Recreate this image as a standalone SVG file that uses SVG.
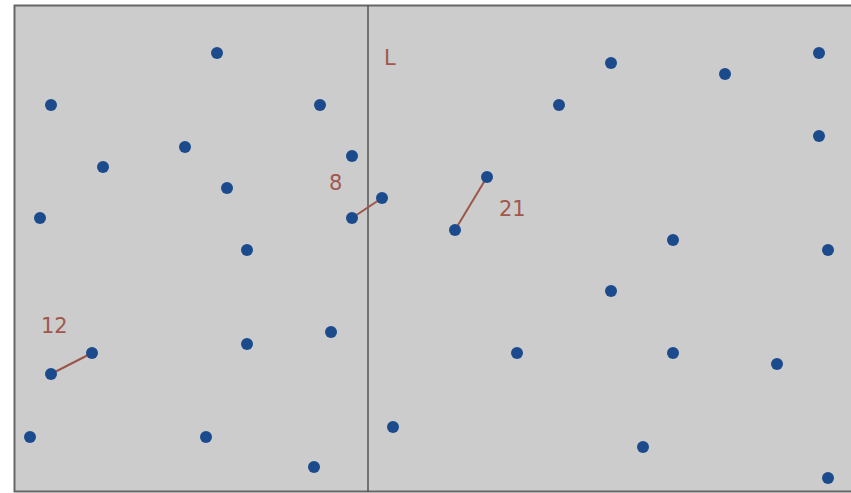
<svg xmlns="http://www.w3.org/2000/svg" width="851" height="493" viewBox="0 0 851 493">
<style>
.pt{fill:#1b4b8c}
.pair{stroke:#9c5548;stroke-width:2}
.lbl{fill:#a0584e;font-family:"DejaVu Sans",sans-serif;font-size:21px}
</style>
<rect width="851" height="493" fill="#ffffff"/>
<rect x="14.5" y="5.5" width="845" height="486" fill="#cccccc" stroke="#666666" stroke-width="2"/>
<g id="divider"><line x1="368" y1="5" x2="368" y2="492" stroke="#555555" stroke-width="1.5"/></g>
<g id="connectors">
<line class="pair" x1="352" y1="218" x2="382" y2="198"/>
<line class="pair" x1="51" y1="374" x2="92" y2="353"/>
<line class="pair" x1="455" y1="230" x2="487" y2="177"/>
</g>
<g id="labels">
<text class="lbl" x="384" y="65">L</text>
<text class="lbl" x="329" y="190">8</text>
<text class="lbl" x="41" y="333">12</text>
<text class="lbl" x="499" y="216">21</text>
</g>
<g id="points">
<circle class="pt" cx="217" cy="53" r="6"/>
<circle class="pt" cx="51" cy="105" r="6"/>
<circle class="pt" cx="320" cy="105" r="6"/>
<circle class="pt" cx="185" cy="147" r="6"/>
<circle class="pt" cx="103" cy="167" r="6"/>
<circle class="pt" cx="352" cy="156" r="6"/>
<circle class="pt" cx="227" cy="188" r="6"/>
<circle class="pt" cx="40" cy="218" r="6"/>
<circle class="pt" cx="352" cy="218" r="6"/>
<circle class="pt" cx="382" cy="198" r="6"/>
<circle class="pt" cx="247" cy="250" r="6"/>
<circle class="pt" cx="331" cy="332" r="6"/>
<circle class="pt" cx="247" cy="344" r="6"/>
<circle class="pt" cx="92" cy="353" r="6"/>
<circle class="pt" cx="51" cy="374" r="6"/>
<circle class="pt" cx="30" cy="437" r="6"/>
<circle class="pt" cx="206" cy="437" r="6"/>
<circle class="pt" cx="314" cy="467" r="6"/>
<circle class="pt" cx="611" cy="63" r="6"/>
<circle class="pt" cx="725" cy="74" r="6"/>
<circle class="pt" cx="819" cy="53" r="6"/>
<circle class="pt" cx="559" cy="105" r="6"/>
<circle class="pt" cx="819" cy="136" r="6"/>
<circle class="pt" cx="487" cy="177" r="6"/>
<circle class="pt" cx="455" cy="230" r="6"/>
<circle class="pt" cx="673" cy="240" r="6"/>
<circle class="pt" cx="828" cy="250" r="6"/>
<circle class="pt" cx="611" cy="291" r="6"/>
<circle class="pt" cx="517" cy="353" r="6"/>
<circle class="pt" cx="673" cy="353" r="6"/>
<circle class="pt" cx="777" cy="364" r="6"/>
<circle class="pt" cx="393" cy="427" r="6"/>
<circle class="pt" cx="643" cy="447" r="6"/>
<circle class="pt" cx="828" cy="478" r="6"/>
</g>
</svg>
